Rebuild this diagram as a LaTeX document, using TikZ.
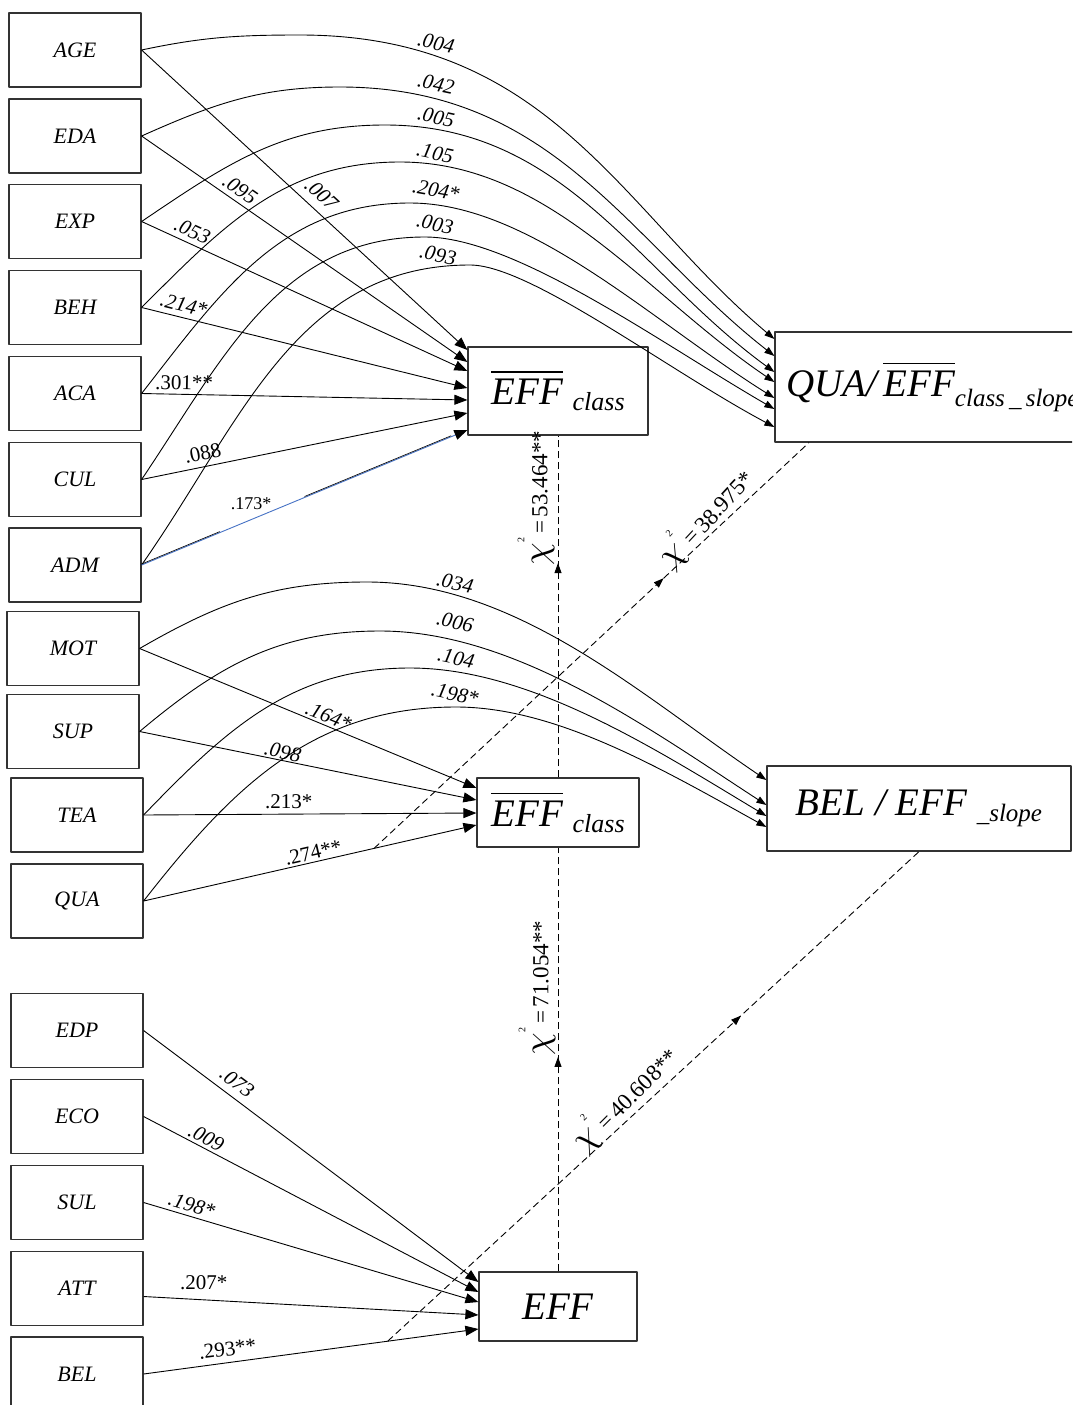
\documentclass[tikz,border=0pt]{standalone}
\usepackage{graphicx}
\usepackage{fontspec}
\setmainfont{Liberation Serif}
\usetikzlibrary{arrows.meta,decorations.markings}
\newcommand\fsz[1]{\fontsize{#1}{#1}\selectfont}
% bar drawn over a group of letters
\newcommand\ovl[1]{\vbox{\hrule height 1.6pt\kern 6.5pt\hbox{#1}}}
% chi-square statistic
\newcommand\chilab[1]{{\fsz{10}\scalebox{3.6}{$\chi$}}\raisebox{23pt}{\fsz{10}2}{\fsz{23}\,=\,#1}}
\definecolor{admblue}{RGB}{70,114,196}

\begin{document}
\begin{tikzpicture}[x=1pt,y=1pt,line join=round,
  var/.style={draw=black!80,line width=1.2pt,minimum width=132pt,minimum height=74pt,inner sep=0pt,font=\fsz{22}\itshape},
  big/.style={draw=black!80,line width=1.2pt,inner sep=0pt,font=\fsz{39}\itshape},
  arr/.style={line width=0.9pt,-{Triangle[length=13pt,width=10pt]}},
  carr/.style={line width=0.9pt,-{Triangle[length=10pt,width=7pt]}},
  coef/.style={font=\fsz{21}\itshape,inner sep=1pt},
  coefr/.style={font=\fsz{21},inner sep=1pt},
  link/.style={line width=0.9pt,dash pattern=on 7pt off 4pt},
  mid arrow/.style={postaction={decorate,decoration={markings,
      mark=at position #1 with {\arrow{Triangle[length=10pt,width=7pt]}}}}},
  chi/.style={inner sep=0pt}]

\useasboundingbox (0,0) rectangle (1072,-1405);
\clip (0,0) rectangle (1072,-1405);

% ---------- predictor boxes ----------
\node[var] (age) at (75,-50)    {AGE};
\node[var] (eda) at (75,-136)   {EDA};
\node[var] (exp) at (75,-221.5) {EXP};
\node[var] (beh) at (75,-307.5) {BEH};
\node[var] (aca) at (75,-393.5) {ACA};
\node[var] (cul) at (75,-479.5) {CUL};
\node[var] (adm) at (75,-565)   {ADM};

\node[var] (mot) at (73,-648.5) {MOT};
\node[var] (sup) at (73,-731.5) {SUP};
\node[var] (tea) at (77,-815)   {TEA};
\node[var] (qua) at (77,-901)   {QUA};

\node[var] (edp) at (77,-1030.5) {EDP};
\node[var] (eco) at (77,-1116.5) {ECO};
\node[var] (sul) at (77,-1202.5) {SUL};
\node[var] (att) at (77,-1288.5) {ATT};
\node[var] (bel) at (77,-1374)   {BEL};

% ---------- outcome boxes ----------
\node[big,minimum width=180pt,minimum height=88pt] (effT) at (558,-391)
  {\ovl{EFF} \raisebox{-6pt}{\fsz{26}class}};
\node[big,text width=293pt,align=left,inner xsep=11pt,minimum height=110pt] (quaB) at (932.5,-387)
  {QUA/\,\ovl{EFF}\raisebox{-10pt}{\fsz{25}class\,\_\,slope}};
\node[big,minimum width=162pt,minimum height=69pt] (effM) at (558,-812.5)
  {\ovl{EFF} \raisebox{-6pt}{\fsz{26}class}};
\node[big,minimum width=304pt,minimum height=85pt] (belB) at (919,-808.5)
  {BEL / EFF \raisebox{-6pt}{\fsz{25}\_slope}};
\node[big,minimum width=158pt,minimum height=69pt] (effB) at (558,-1306.5) {EFF};

% ---------- peaks of the curved paths ----------
\coordinate (pk1) at (300,-35);
\coordinate (pk2) at (340,-87);
\coordinate (pk3) at (385,-125);
\coordinate (pk4) at (400,-162);
\coordinate (pk5) at (410,-203);
\coordinate (pk6) at (425,-237);
\coordinate (pk7) at (470,-265);
\coordinate (pk8) at (367,-582);
\coordinate (pk9) at (380,-631);
\coordinate (pk10) at (410,-668);
\coordinate (pk11) at (456,-707);

% ---------- curved paths to the slope boxes ----------
\draw[carr] (age.east) to[out=12,in=180] (pk1) to[out=0,in=140,out distance=250pt,in distance=200pt] ([yshift=48pt]quaB.west);
\draw[carr] (eda.east) to[out=24,in=180] (pk2) to[out=0,in=142,out distance=215pt,in distance=185pt] ([yshift=31pt]quaB.west);
\draw[carr] (exp.east) to[out=34,in=180] (pk3) to[out=0,in=144,out distance=180pt,in distance=170pt] ([yshift=15pt]quaB.west);
\draw[carr] (beh.east) to[out=45,in=180] (pk4) to[out=0,in=146,out distance=150pt,in distance=155pt] ([yshift=5pt]quaB.west);
\draw[carr] (aca.east) to[out=52,in=180] (pk5) to[out=0,in=148,out distance=120pt,in distance=145pt] ([yshift=-11pt]quaB.west);
\draw[carr] (cul.east) to[out=56,in=180] (pk6) to[out=0,in=150,out distance=90pt,in distance=130pt] ([yshift=-22pt]quaB.west);
\draw[carr] (adm.east) to[out=55,in=180] (pk7) to[out=0,in=152,out distance=60pt,in distance=120pt] ([yshift=-40pt]quaB.west);

\draw[carr] (mot.east) to[out=30,in=180] (pk8) to[out=0,in=146,out distance=150pt,in distance=150pt] ([yshift=28.5pt]belB.west);
\draw[carr] (sup.east) to[out=40,in=180] (pk9) to[out=0,in=147,out distance=135pt,in distance=140pt] ([yshift=3.5pt]belB.west);
\draw[carr] (tea.east) to[out=46,in=180] (pk10) to[out=0,in=149,out distance=120pt,in distance=130pt] ([yshift=-7.5pt]belB.west);
\draw[carr] (qua.east) to[out=52,in=180] (pk11) to[out=0,in=151,out distance=100pt,in distance=120pt] ([yshift=-18.5pt]belB.west);

% coefficients on the curved paths
\node[coef,rotate=-12] (k1) at (436,-43)  {.004};
\node[coef,rotate=-12] (k2) at (436,-84)  {.042};
\node[coef,rotate=-12] (k3) at (436,-117) {.005};
\node[coef,rotate=-12] (k4) at (435,-153) {.105};
\node[coef,rotate=-10] (k5) at (436,-190) {.204*};
\node[coef,rotate=-12] (k6) at (435,-224) {.003};
\node[coef,rotate=-12] (k7) at (438,-255) {.093};
\node[coef,rotate=-12] (k8) at (455,-583) {.034};
\node[coef,rotate=-12] (k9) at (455,-622) {.006};
\node[coef,rotate=-12] (k10) at (456,-658) {.104};
\node[coef,rotate=-12] (k11) at (455,-694) {.198*};

% ---------- straight paths to the class-mean boxes ----------
\draw[arr] (age.east) -- node[coef,sloped,above=7pt,pos=0.52] (l1) {.007} ([yshift=41pt]effT.west);
\draw[arr] (eda.east) -- node[coef,sloped,above=4pt,pos=0.28] (l2) {.095} ([yshift=29pt]effT.west);
\draw[arr] (exp.east) -- node[coef,sloped,above=4pt,pos=0.14] (l3) {.053} ([yshift=20pt]effT.west);
\draw[arr] (beh.east) -- node[coef,sloped,above=4pt,pos=0.12] (l4) {.214*} ([yshift=3pt]effT.west);
\draw[arr] (aca.east) -- node[coefr,sloped,above=3pt,pos=0.13] (l5) {.301**} ([yshift=-9pt]effT.west);
\draw[arr] (cul.east) -- node[coefr,sloped,above=5pt,pos=0.196] (l6) {.088} ([yshift=-22pt]effT.west);
\draw[arr,draw=admblue,-{Triangle[length=13pt,width=10pt,black]}] (adm.east) --
  node[coefr,font=\fsz{18},above=8pt,pos=0.336] (l7) {.173*}
  coordinate[pos=0.24] (ad1) coordinate[pos=0.5] (ad2) coordinate[pos=0.95] (ad3)
  ([yshift=-39pt]effT.west);
\begin{scope}[transform canvas={yshift=1pt},line width=0.6pt]
  \draw (adm.east) -- (ad1);
  \draw (ad2) -- (ad3);
\end{scope}

\draw[arr] (mot.east) -- node[coef,sloped,above=1pt,pos=0.55] (l8) {.164*} ([yshift=24.5pt]effM.west);
\draw[arr] (sup.east) -- node[coef,sloped,above=0pt,pos=0.42] (l9) {.098} ([yshift=12.5pt]effM.west);
\draw[arr] (tea.east) -- node[coefr,above=4pt,pos=0.436] (l10) {.213*} ([yshift=-0.5pt]effM.west);
\draw[arr] (qua.east) -- node[coefr,sloped,above=1pt,pos=0.516] (l11) {.274**}
  coordinate[pos=0.6925] (xq) ([yshift=-12.5pt]effM.west);

\draw[arr] (edp.east) -- node[coef,sloped,above=6pt,pos=0.253] (l12) {.073} ([yshift=24.5pt]effB.west);
\draw[arr] (eco.east) -- node[coef,sloped,above=2pt,pos=0.173] (l13) {.009} ([yshift=14.5pt]effB.west);
\draw[arr] (sul.east) -- node[coef,sloped,above=3pt,pos=0.134] (l14) {.198*} ([yshift=4.5pt]effB.west);
\draw[arr] ([yshift=-8pt]att.east) -- node[coefr,above=9pt,pos=0.18] (l15) {.207*} ([yshift=-8.5pt]effB.west);
\draw[arr] (bel.east) -- node[coefr,sloped,above=5pt,pos=0.256] (l16) {.293**}
  coordinate[pos=0.729] (xb) ([yshift=-22.5pt]effB.west);

% ---------- dashed cross-level links ----------
\draw[link,mid arrow=0.627] (effM.north) -- (effT.south);
\draw[link,mid arrow=0.506] (effB.north) -- (effM.south);
\draw[link,mid arrow=0.666] (xq) -- ([xshift=-123.5pt]quaB.south);
\draw[link,mid arrow=0.665] (xb) -- (belB.south);

\node[chi,rotate=90] (q1) at (536,-498)  {\chilab{53.464**}};
\node[chi,rotate=90] (q2) at (537,-988)  {\chilab{71.054**}};
\node[chi,rotate=47] (q3) at (705,-517)  {\chilab{38.975*}};
\node[chi,rotate=45] (q4) at (624,-1098) {\chilab{40.608**}};
\end{tikzpicture}
\end{document}
